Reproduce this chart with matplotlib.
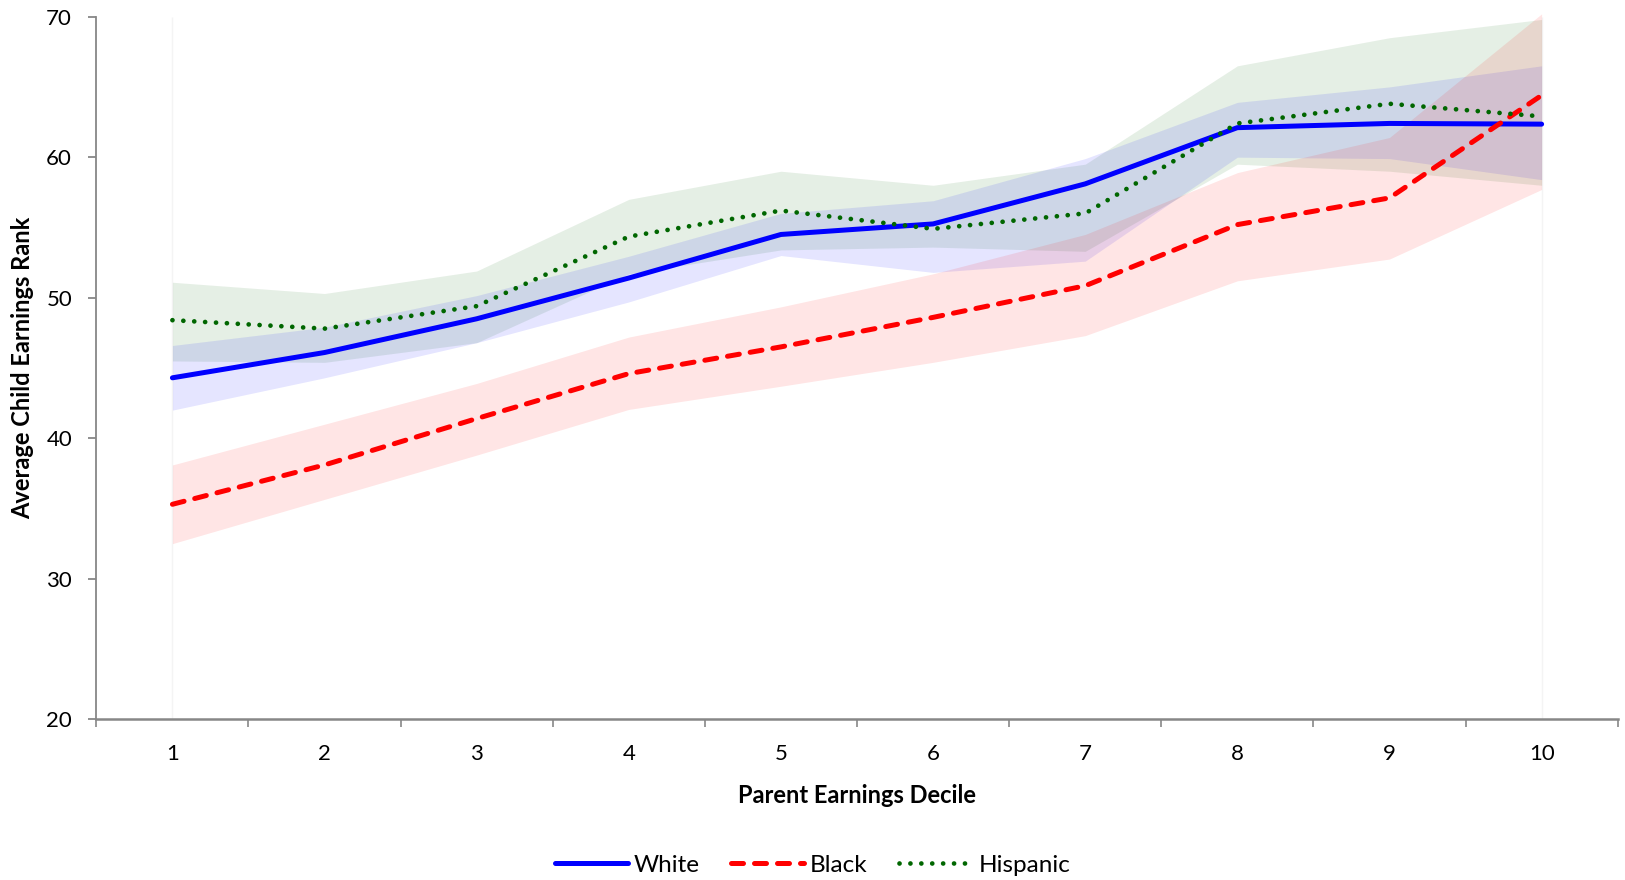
import matplotlib
matplotlib.use("Agg")
import matplotlib.pyplot as plt
from matplotlib.ticker import FixedLocator, NullFormatter

plt.rcParams['font.family'] = ['Lato', 'DejaVu Sans']

deciles = [1, 2, 3, 4, 5, 6, 7, 8, 9, 10]

white = [44.3, 46.1, 48.5, 51.4, 54.5, 55.25, 58.1, 62.1, 62.4, 62.35]
white_lo = [42.0, 44.3, 46.8, 49.7, 53.0, 51.8, 52.6, 60.0, 59.9, 58.4]
white_hi = [46.6, 47.9, 50.15, 52.95, 56.0, 56.9, 59.9, 63.9, 65.0, 66.5]

black = [35.3, 38.1, 41.4, 44.6, 46.5, 48.6, 50.85, 55.2, 57.1, 64.4]
black_lo = [32.5, 35.65, 38.8, 42.05, 43.7, 45.4, 47.3, 51.2, 52.75, 57.7]
black_hi = [38.1, 41.0, 43.9, 47.2, 49.35, 51.7, 54.5, 58.9, 61.4, 70.2]

hispanic = [48.4, 47.8, 49.4, 54.35, 56.2, 54.9, 56.0, 62.4, 63.8, 62.9]
hispanic_lo = [45.5, 45.4, 46.8, 51.7, 53.4, 53.6, 53.3, 59.5, 59.0, 58.0]
hispanic_hi = [51.1, 50.3, 51.9, 57.0, 59.0, 58.0, 59.5, 66.5, 68.5, 69.8]

fig = plt.figure(figsize=(16.25, 8.8), dpi=100)
ax = fig.add_axes([0.0593, 0.1826, 0.9362, 0.7985])

blue = '#0000FF'
red = '#FF0000'
green = '#006600'

# faint edges of the shaded areas at the first and last decile
ax.vlines([deciles[0], deciles[-1]], 20, 70, color='#f4f4f4', lw=1.0, zorder=0)

ax.fill_between(deciles, hispanic_lo, hispanic_hi, color=green, alpha=0.10, lw=0)
ax.fill_between(deciles, white_lo, white_hi, color=blue, alpha=0.10, lw=0)
ax.fill_between(deciles, black_lo, black_hi, color=red, alpha=0.10, lw=0, clip_on=False)

ax.plot(deciles, white, color=blue, lw=3.6, solid_capstyle='round',
        solid_joinstyle='round', label='White', zorder=4)
ax.plot(deciles, black, color=red, lw=3.6, dashes=(2.4, 2.2), dash_capstyle='round',
        label='Black', zorder=5)
ax.plot(deciles, hispanic, color=green, lw=3.4, dashes=(0.01, 2.3),
        dash_capstyle='round', label='Hispanic', zorder=6)

ax.set_xlim(0.5, 10.5)
ax.set_ylim(20, 70)
ax.set_yticks([20, 30, 40, 50, 60, 70])

ax.xaxis.set_major_locator(FixedLocator([i + 0.5 for i in range(0, 11)]))
ax.xaxis.set_major_formatter(NullFormatter())
ax.xaxis.set_minor_locator(FixedLocator(deciles))
ax.set_xticklabels([str(d) for d in deciles], minor=True)

grey = '#878787'
for side in ('top', 'right'):
    ax.spines[side].set_visible(False)
ax.spines['left'].set_color(grey)
ax.spines['left'].set_linewidth(1.3)
ax.spines['bottom'].set_color(grey)
ax.spines['bottom'].set_linewidth(1.8)

ax.tick_params(axis='x', which='major', direction='out', length=6, width=1.2, color=grey)
ax.tick_params(axis='x', which='minor', length=0, pad=18, labelsize=16)
ax.tick_params(axis='y', which='major', direction='out', length=5.5, width=1.3, color=grey,
               labelsize=16, pad=12)

ax.set_xlabel('Parent Earnings Decile', fontsize=17, fontweight='bold', labelpad=14)
ax.set_ylabel('Average Child Earnings Rank', fontsize=17, fontweight='bold', labelpad=9)

handles, labels = ax.get_legend_handles_labels()
fig.legend(handles, labels, loc='center', bbox_to_anchor=(0.5, 0.0165), ncol=3,
           frameon=False, fontsize=17.5, handlelength=3.0, handletextpad=0.25,
           columnspacing=1.3)

fig.savefig('out.png', dpi=100)
